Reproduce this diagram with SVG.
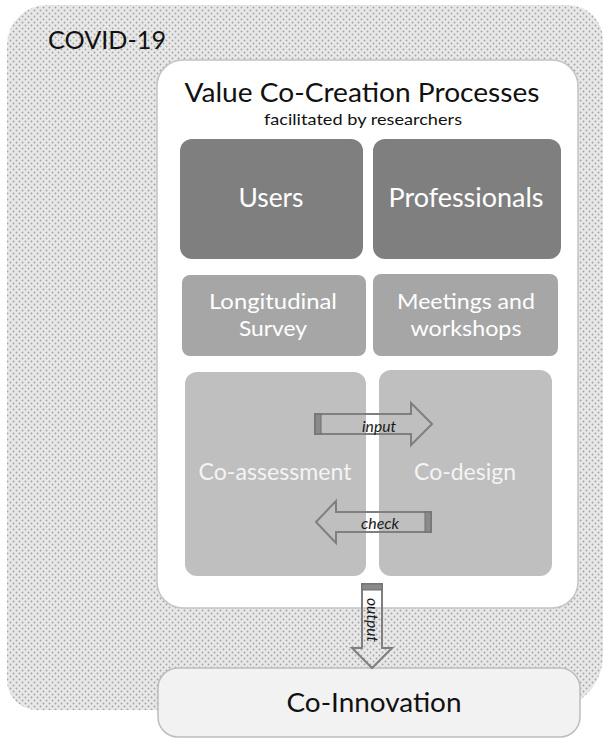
<svg xmlns="http://www.w3.org/2000/svg" width="603" height="739" viewBox="0 0 603 739">
  <defs>
    <pattern id="dots" width="6" height="6" patternUnits="userSpaceOnUse">
      <rect width="6" height="6" fill="#e8e8e8"/>
      <circle cx="1.5" cy="1.5" r="0.95" fill="#a4a4a4"/>
      <circle cx="4.5" cy="4.5" r="0.95" fill="#a4a4a4"/>
    </pattern>
  </defs>
  <style>
    .lbl { font-family: Lato, "Liberation Sans", sans-serif; text-anchor: middle; }
    .dark { fill: #7f7f7f; }
    .mid { fill: #a6a6a6; }
    .light { fill: #bfbfbf; }
    .wt { fill: #ffffff; }
    .arrow { fill: none; stroke: #7f7f7f; stroke-width: 2; stroke-linejoin: miter; }
    .tail { fill: #8a8a8a; stroke: #6f6f6f; stroke-width: 1; }
    .tag { font-family: Lato, "Liberation Sans", sans-serif; font-style: italic; font-size: 15px; fill: #1a1a1a; text-anchor: middle; }
  </style>

  <!-- COVID-19 context area -->
  <g id="covid">
    <path d="M47,5 H568 A35,35 0 0 1 603,40 V655 A55,55 0 0 1 548,710 H37 A30,30 0 0 1 7,680 V45 A40,40 0 0 1 47,5 Z" fill="url(#dots)"/>
    <text class="lbl" x="107" y="49" font-size="25" fill="#111" textLength="118" lengthAdjust="spacingAndGlyphs">COVID-19</text>
  </g>

  <!-- Value co-creation container -->
  <g id="vcc">
    <rect x="157" y="60" width="421" height="548" rx="26" fill="#ffffff" stroke="#c4c4c4" stroke-width="1.5"/>
    <text class="lbl" x="362" y="102" font-size="26.5" fill="#111" textLength="355" lengthAdjust="spacingAndGlyphs">Value Co-Creation Processes</text>
    <text class="lbl" x="363" y="125" font-size="16" fill="#111" textLength="198" lengthAdjust="spacingAndGlyphs">facilitated by researchers</text>
  </g>

  <g id="users">
    <rect class="dark" x="180" y="139" width="183" height="120" rx="12"/>
    <text class="lbl wt" x="271" y="207" font-size="26.5" textLength="65" lengthAdjust="spacingAndGlyphs">Users</text>
  </g>
  <g id="professionals">
    <rect class="dark" x="373" y="139" width="188" height="120" rx="12"/>
    <text class="lbl wt" x="466" y="207" font-size="26.5" textLength="155" lengthAdjust="spacingAndGlyphs">Professionals</text>
  </g>

  <g id="survey">
    <rect class="mid" x="182" y="275" width="184" height="81" rx="8"/>
    <text class="lbl wt" x="273" y="309" font-size="22" textLength="128" lengthAdjust="spacingAndGlyphs">Longitudinal</text>
    <text class="lbl wt" x="273" y="336" font-size="22" textLength="68" lengthAdjust="spacingAndGlyphs">Survey</text>
  </g>
  <g id="meetings">
    <rect class="mid" x="373" y="274" width="185" height="82" rx="8"/>
    <text class="lbl wt" x="466" y="309" font-size="22" textLength="138" lengthAdjust="spacingAndGlyphs">Meetings and</text>
    <text class="lbl wt" x="466" y="336" font-size="22" textLength="111" lengthAdjust="spacingAndGlyphs">workshops</text>
  </g>

  <g id="co-assessment">
    <rect class="light" x="185" y="372" width="181" height="204" rx="12"/>
    <text class="lbl" x="275" y="480" font-size="22.5" fill="#f4f4f4" textLength="153" lengthAdjust="spacingAndGlyphs">Co-assessment</text>
  </g>
  <g id="co-design">
    <rect class="light" x="379" y="370" width="173" height="206" rx="12"/>
    <text class="lbl" x="465" y="480" font-size="22.5" fill="#f4f4f4" textLength="102" lengthAdjust="spacingAndGlyphs">Co-design</text>
  </g>

  <g id="co-innovation">
    <rect x="158" y="668" width="422" height="69" rx="20" fill="#f2f2f2" stroke="#bdbdbd" stroke-width="1.5"/>
    <text class="lbl" x="374" y="712" font-size="26.5" fill="#111" textLength="175" lengthAdjust="spacingAndGlyphs">Co-Innovation</text>
  </g>

  <!-- block arrows between the processes -->
  <g id="connectors">
    <g id="input">
      <polygon class="arrow" points="315,414 411,414 411,403 432,424 411,445 411,434 315,434"/>
      <rect class="tail" x="315" y="414" width="6" height="20"/>
      <text class="tag" x="379" y="432" textLength="34" lengthAdjust="spacingAndGlyphs">input</text>
    </g>
    <g id="check">
      <polygon class="arrow" points="431,512 336,512 336,501 316,522 336,543 336,532 431,532"/>
      <rect class="tail" x="425" y="512" width="6" height="20"/>
      <text class="tag" x="380" y="529" textLength="38" lengthAdjust="spacingAndGlyphs">check</text>
    </g>
    <g id="output">
      <polygon class="arrow" points="362,584 382,584 382,648 392,648 372,668 352,648 362,648"/>
      <rect class="tail" x="362" y="584" width="20" height="6"/>
      <text class="tag" x="0" y="0" transform="translate(367,620) rotate(90)" textLength="44" lengthAdjust="spacingAndGlyphs">output</text>
    </g>
  </g>
</svg>
